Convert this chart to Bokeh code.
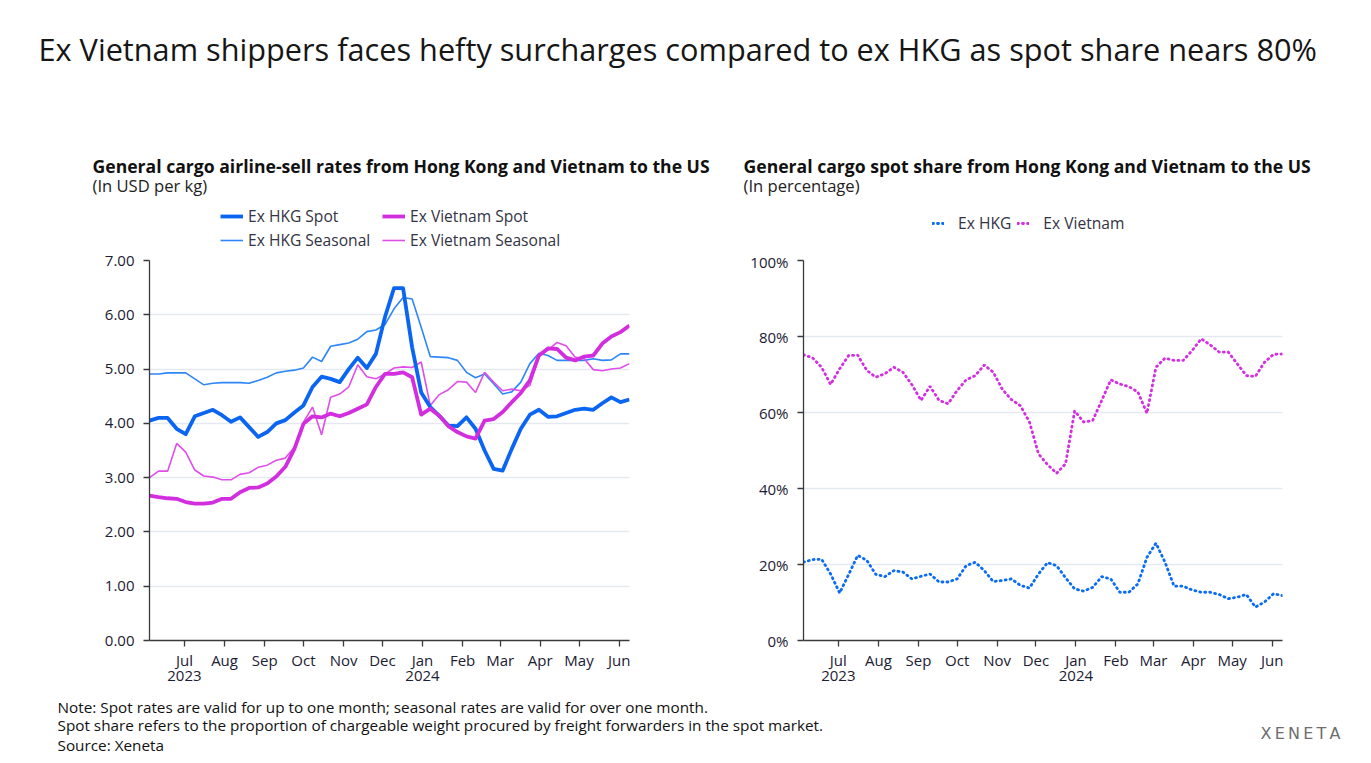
import pandas as pd
from bokeh.plotting import figure
from bokeh.models import Label, Legend, LegendItem, FixedTicker, NumeralTickFormatter, Range1d
from bokeh.layouts import column, row
from bokeh.embed import file_html
from bokeh.resources import INLINE

FONT = "Open Sans"
TXT = "#1c2033"

# ---------------- data ----------------
weeks = pd.date_range("2023-06-04", periods=54, freq="7D")
month_starts = pd.date_range("2023-07-01", "2024-06-01", freq="MS")

hkg_spot = [4.05, 4.10, 4.10, 3.90, 3.80, 4.13, 4.19, 4.25, 4.15, 4.03, 4.11, 3.93, 3.75, 3.84,
            4.00, 4.06, 4.20, 4.33, 4.67, 4.86, 4.82, 4.76, 5.00, 5.21, 5.02, 5.28, 5.96,
            6.49, 6.49, 5.40, 4.57, 4.30, 4.14, 3.96, 3.95, 4.11, 3.90, 3.50, 3.16, 3.13,
            3.53, 3.90, 4.16, 4.25, 4.12, 4.13, 4.19, 4.25, 4.27, 4.25, 4.37, 4.48, 4.39, 4.44]
hkg_seasonal = [4.91, 4.91, 4.93, 4.93, 4.93, 4.82, 4.71, 4.74, 4.75, 4.75, 4.75, 4.74, 4.79, 4.85,
                4.93, 4.96, 4.98, 5.02, 5.22, 5.14, 5.42, 5.45, 5.48, 5.55, 5.69, 5.72, 5.82,
                6.11, 6.32, 6.29, 5.77, 5.23, 5.22, 5.21, 5.16, 4.94, 4.84, 4.91, 4.73, 4.54,
                4.58, 4.76, 5.10, 5.29, 5.25, 5.16, 5.16, 5.16, 5.16, 5.19, 5.16, 5.17, 5.28, 5.28]
vn_spot = [2.67, 2.64, 2.62, 2.61, 2.55, 2.52, 2.52, 2.54, 2.61, 2.61, 2.73, 2.81, 2.82, 2.89,
           3.02, 3.20, 3.53, 3.99, 4.13, 4.11, 4.18, 4.13, 4.19, 4.27, 4.35, 4.67, 4.91,
           4.91, 4.94, 4.85, 4.16, 4.27, 4.14, 3.95, 3.84, 3.76, 3.72, 4.05, 4.08, 4.21,
           4.39, 4.56, 4.79, 5.25, 5.38, 5.37, 5.21, 5.16, 5.23, 5.25, 5.47, 5.60, 5.68, 5.80]
vn_seasonal = [3.00, 3.12, 3.12, 3.63, 3.47, 3.14, 3.03, 3.01, 2.96, 2.96, 3.06, 3.09, 3.19, 3.23,
               3.32, 3.36, 3.56, 4.02, 4.30, 3.79, 4.48, 4.54, 4.67, 5.08, 4.86, 4.82, 4.91,
               5.02, 5.04, 5.03, 5.13, 4.33, 4.53, 4.62, 4.77, 4.76, 4.57, 4.94, 4.76, 4.60,
               4.63, 4.60, 4.70, 5.23, 5.35, 5.49, 5.43, 5.22, 5.19, 4.99, 4.97, 5.00, 5.02, 5.10]

hkg_share = [20.6, 21.3, 21.4, 17.5, 12.5, 17.4, 22.4, 21.1, 17.4, 16.8, 18.4, 18.0, 16.2, 16.9,
             17.5, 15.4, 15.4, 16.2, 19.7, 20.6, 18.4, 15.5, 15.8, 16.2, 14.5, 13.8, 17.5, 20.5,
             19.7, 16.5, 13.6, 13.0, 14.0, 16.8, 16.2, 12.7, 12.7, 14.9, 21.9, 25.6, 20.6, 14.3,
             14.3, 13.3, 12.7, 12.7, 12.1, 11.0, 11.4, 12.1, 8.8, 10.1, 12.3, 11.8]
vn_share = [75.2, 74.4, 71.9, 67.4, 71.5, 75.0, 75.1, 71.1, 69.3, 70.2, 71.9, 70.6, 67.3, 63.2,
            66.9, 63.2, 62.3, 65.8, 68.6, 69.7, 72.5, 70.6, 66.1, 63.4, 61.8, 57.5, 49.1, 46.3,
            44.0, 46.5, 60.4, 57.5, 57.9, 63.2, 68.6, 67.5, 66.8, 65.4, 59.8, 71.9, 74.3, 73.7,
            73.7, 76.3, 79.4, 77.8, 75.9, 75.9, 72.8, 69.7, 69.5, 73.2, 75.3, 75.4]

rate_ticks = [0, 1, 2, 3, 4, 5, 6, 7]
share_ticks = [0, 20, 40, 60, 80, 100]
share_labels = ["0%", "20%", "40%", "60%", "80%", "100%"]

# ---------------- helpers ----------------
x = [(d - weeks[0]).days for d in weeks]
x_end = x[-1]
tick_pos = [(d - weeks[0]).days for d in month_starts]
tick_lab = []
for d in month_starts:
    s = d.strftime("%b")
    if d.month in (7, 1):
        s += "\n" + str(d.year)
    tick_lab.append(s)

C_HKG = "#0a66f2"
C_HKG_S = "#2e86f7"
C_VN = "#d22ee0"
C_VN_S = "#e04ee9"
C_HKG_D = "#0a6cf5"
C_VN_D = "#d42ee2"

W = 1371
HEAD_H = 251
CHART_H = 444
FOOT_H = 68
NAN = float("nan")


def style_axes(p):
    p.outline_line_color = None
    p.xgrid.grid_line_color = None
    p.ygrid.grid_line_color = "#e4e9f1"
    p.ygrid.grid_line_width = 1.5
    for ax in (p.xaxis[0], p.yaxis[0]):
        ax.axis_line_color = "#3a3a3a"
        ax.axis_line_width = 1.3
        ax.major_tick_line_color = "#3a3a3a"
        ax.major_tick_line_width = 1.3
        ax.major_tick_in = 0
        ax.major_tick_out = 6
        ax.minor_tick_line_color = None
        ax.major_label_text_font = FONT
        ax.major_label_text_font_size = "15px"
        ax.major_label_text_color = TXT
    p.xaxis.major_label_text_line_height = 0.75
    p.yaxis.major_label_standoff = 9
    p.xaxis.major_label_standoff = 3
    p.xaxis.ticker = FixedTicker(ticks=tick_pos)
    p.xaxis.major_label_overrides = dict(zip(tick_pos, tick_lab))


def blank(width, height):
    f = figure(width=width, height=height, x_range=Range1d(0, width), y_range=Range1d(0, height),
               output_backend="svg", toolbar_location=None, min_border=0,
               x_axis_type=None, y_axis_type=None)
    f.outline_line_color = None
    f.grid.visible = False
    return f


def txt(f, xx, yy, text, size, color="#111111", style="normal", font=FONT):
    f.add_layout(Label(x=xx, y=f.height - yy, x_units="screen", y_units="screen", text=text,
                       text_font=font, text_font_size=size, text_font_style=style,
                       text_color=color, text_baseline="middle"))


# ---------------- header: title, chart headings, legends ----------------
ph = blank(W, HEAD_H)
txt(ph, 38, 48, "Ex Vietnam shippers faces hefty surcharges compared to ex HKG as spot share nears 80%",
    "30.7px", color="#161616")
txt(ph, 92, 165, "General cargo airline-sell rates from Hong Kong and Vietnam to the US", "17.6px",
    style="bold")
txt(ph, 92, 185, "(In USD per kg)", "16.6px", color="#222222")
txt(ph, 743, 165, "General cargo spot share from Hong Kong and Vietnam to the US", "17.6px",
    style="bold")
txt(ph, 743, 185, "(In percentage)", "16.6px", color="#222222")

# legend keys (single NaN point: nothing drawn, only the key style is used)
lh = ph.line([NAN], [NAN], line_color=C_HKG, line_width=3.8)
lv = ph.line([NAN], [NAN], line_color=C_VN, line_width=3.8)
lhs = ph.line([NAN], [NAN], line_color=C_HKG_S, line_width=1.6)
lvs = ph.line([NAN], [NAN], line_color=C_VN_S, line_width=1.6)
ldh = ph.line([NAN], [NAN], line_color=C_HKG_D, line_width=2.8, line_dash="1 4", line_cap="round")
ldv = ph.line([NAN], [NAN], line_color=C_VN_D, line_width=2.8, line_dash="1 4", line_cap="round")

leg1 = Legend(items=[LegendItem(label="Ex HKG Spot", renderers=[lh]),
                     LegendItem(label="Ex HKG Seasonal", renderers=[lhs]),
                     LegendItem(label="Ex Vietnam Spot", renderers=[lv]),
                     LegendItem(label="Ex Vietnam Seasonal", renderers=[lvs])],
              ncols=2, location=(220, 0), padding=0, margin=0, spacing=2,
              border_line_color=None, background_fill_color=None,
              glyph_width=23, glyph_height=16, label_height=16, label_width=132,
              label_standoff=5,
              label_text_font=FONT, label_text_font_size="15.6px", label_text_color="#333344")
ph.add_layout(leg1)
leg2 = Legend(items=[LegendItem(label="Ex HKG", renderers=[ldh]),
                     LegendItem(label="Ex Vietnam", renderers=[ldv])],
              orientation="horizontal", location=(932, 17), padding=0, margin=0,
              spacing=6, border_line_color=None, background_fill_color=None,
              glyph_width=12, glyph_height=16, label_height=16, label_standoff=14,
              label_text_font=FONT, label_text_font_size="15.6px", label_text_color="#333344")
ph.add_layout(leg2)

# ---------------- left chart ----------------
p1 = figure(width=700, height=CHART_H, x_range=Range1d(0, x_end), y_range=Range1d(0, 7),
            output_backend="svg", toolbar_location=None,
            min_border_left=149, min_border_right=71, min_border_top=9, min_border_bottom=55)
style_axes(p1)
p1.yaxis.ticker = FixedTicker(ticks=rate_ticks)
p1.yaxis.formatter = NumeralTickFormatter(format="0.00")

p1.line(x, hkg_seasonal, line_color=C_HKG_S, line_width=1.6)
p1.line(x, vn_seasonal, line_color=C_VN_S, line_width=1.6)
p1.line(x, hkg_spot, line_color=C_HKG, line_width=3.8, line_join="round")
p1.line(x, vn_spot, line_color=C_VN, line_width=3.8, line_join="round")

# ---------------- right chart ----------------
p2 = figure(width=W - 700, height=CHART_H, x_range=Range1d(0, x_end), y_range=Range1d(0, 100),
            output_backend="svg", toolbar_location=None,
            min_border_left=103, min_border_right=89, min_border_top=9, min_border_bottom=55)
style_axes(p2)
p2.yaxis.ticker = FixedTicker(ticks=share_ticks)
p2.yaxis.major_label_overrides = dict(zip(share_ticks, share_labels))

p2.line(x, hkg_share, line_color=C_HKG_D, line_width=2.8, line_dash="1 4", line_cap="round")
p2.line(x, vn_share, line_color=C_VN_D, line_width=2.8, line_dash="1 4", line_cap="round")

# ---------------- footer ----------------
pf = blank(W, FOOT_H)
notes = ["Note: Spot rates are valid for up to one month; seasonal rates are valid for over one month.",
         "Spot share refers to the proportion of chargeable weight procured by freight forwarders in the spot market.",
         "Source: Xeneta"]
for t, yy in zip(notes, [11, 29, 49]):
    txt(pf, 57, yy, t, "15.3px")
txt(pf, 1260, 38, "X\u2009E\u2009N\u2009E\u2009T\u2009A", "16px", color="#6e6e6e", font="DejaVu Sans")

layout = column(ph, row(p1, p2), pf)
open("out.html", "w").write(file_html(layout, INLINE))
